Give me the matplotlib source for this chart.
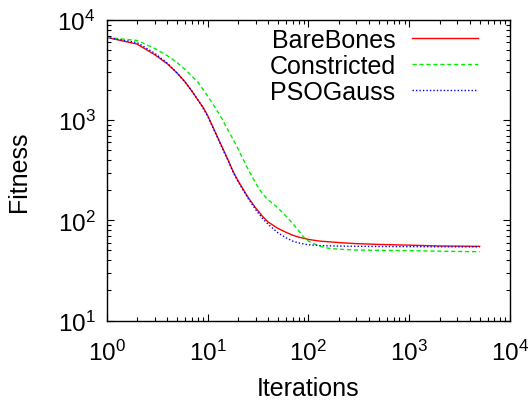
import matplotlib
matplotlib.use("Agg")
import matplotlib.pyplot as plt
from matplotlib.ticker import LogLocator, NullFormatter

plt.rcParams['font.family'] = ['Liberation Sans', 'DejaVu Sans']
plt.rcParams['mathtext.fontset'] = 'custom'
plt.rcParams['mathtext.rm'] = 'Liberation Sans'
plt.rcParams['mathtext.it'] = 'Liberation Sans:italic'
plt.rcParams['mathtext.bf'] = 'Liberation Sans:bold'

# Data (estimated from reference)
bb_x = [1, 2, 3, 4, 5, 6, 7, 8, 9, 10, 12, 14, 16, 18, 20, 25, 30, 35, 40, 50, 60, 70, 80, 100, 130, 200, 300, 500, 1000, 2000, 5000]
bb_y = [6700, 5750, 4500, 3650, 2950, 2400, 1950, 1600, 1350, 1120, 750, 535, 400, 305, 250, 172, 133, 110, 96, 83, 76, 71, 68, 64.5, 62, 60, 58.5, 57.5, 56.5, 55.5, 55]

con_x = [1, 2, 3, 4, 5, 6, 7, 8, 10, 12, 14, 16, 18, 20, 25, 30, 35, 40, 50, 60, 70, 80, 90, 100, 130, 160, 200, 300, 1000, 2000, 5000]
con_y = [6700, 6250, 5200, 4400, 3750, 3200, 2750, 2400, 1750, 1320, 1020, 790, 640, 520, 330, 235, 185, 160, 133, 110, 93, 79, 68, 62, 55, 52.5, 51.5, 50.5, 49.8, 49.2, 48.6]

pg_x = [1, 2, 3, 4, 5, 6, 7, 8, 9, 10, 12, 14, 16, 18, 20, 25, 30, 35, 40, 50, 60, 70, 80, 100, 130, 200, 500, 1000, 5000]
pg_y = [6700, 5950, 4650, 3700, 2950, 2400, 1950, 1600, 1330, 1100, 740, 525, 395, 300, 245, 168, 128, 105, 91, 75, 67, 62, 59.5, 57, 56, 55.3, 54.8, 54.6, 54.3]

labels = ['BareBones', 'Constricted', 'PSOGauss']

fig = plt.figure(figsize=(5.32, 4.06), dpi=100)
ax = fig.add_axes([106.7/532, 1 - 321.5/406, (510 - 106.7)/532, (321.5 - 21)/406])

ax.plot(bb_x, bb_y, color='#ff0000', lw=1.0, label=labels[0])
ax.plot(con_x, con_y, color='#00ee00', lw=1.0, ls=(0, (3, 2)), label=labels[1])
ax.plot(pg_x, pg_y, color='#0000ff', lw=1.0, ls=(0, (1, 1.5)), label=labels[2])

ax.set_xscale('log')
ax.set_yscale('log')
ax.set_xlim(1, 1e4)
ax.set_ylim(10, 1e4)

ax.xaxis.set_major_locator(LogLocator(base=10, numticks=10))
ax.yaxis.set_major_locator(LogLocator(base=10, numticks=10))
ax.xaxis.set_minor_locator(LogLocator(base=10, subs=range(2, 10), numticks=100))
ax.yaxis.set_minor_locator(LogLocator(base=10, subs=range(2, 10), numticks=100))
ax.xaxis.set_minor_formatter(NullFormatter())
ax.yaxis.set_minor_formatter(NullFormatter())

ax.tick_params(which='both', direction='in', top=True, right=True, width=0.8, labelsize=17.5)
ax.tick_params(which='major', length=5)
ax.tick_params(which='minor', length=3)
ax.tick_params(axis='x', which='major', pad=14)
ax.tick_params(axis='y', which='major', pad=8)
for s in ax.spines.values():
    s.set_linewidth(1.0)

ax.set_xlabel('Iterations', fontsize=18, labelpad=8)
ax.set_ylabel('Fitness', fontsize=18, labelpad=19)

leg = ax.legend(loc='upper right', bbox_to_anchor=(478/532, 1 - 29/406),
                bbox_transform=fig.transFigure, frameon=False, markerfirst=False,
                fontsize=18, handlelength=2.65, handletextpad=0.65,
                labelspacing=0.07, borderpad=0, borderaxespad=0)

fig.savefig('out.png', dpi=100)
